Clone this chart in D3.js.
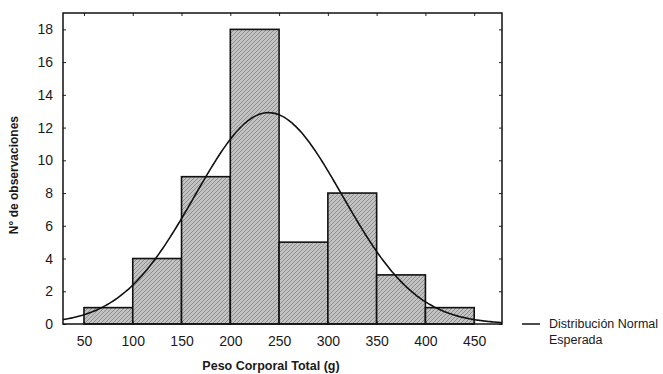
<!DOCTYPE html>
<html>
<head>
<meta charset="utf-8">
<script src="https://cdn.jsdelivr.net/npm/d3@7"></script>
<style>
  html, body { margin: 0; padding: 0; background: #ffffff; }
  svg { display: block; font-family: "Liberation Sans", Arial, sans-serif; }
</style>
</head>
<body>
<svg id="chart" width="663" height="374"></svg>
<script>
// Histogram of total body weight (g): bin edges and counts
const binStarts = [50, 100, 150, 200, 250, 300, 350, 400];
const binWidth = 50;
const counts = [1, 4, 9, 18, 5, 8, 3, 1];
const xTicks = [50, 100, 150, 200, 250, 300, 350, 400, 450];
const yTicks = [0, 2, 4, 6, 8, 10, 12, 14, 16, 18];

const svg = d3.select("#chart");
const margin = { left: 63, right: 161, top: 13, bottom: 50 };
const W = 663, H = 374;
const plotW = W - margin.left - margin.right;
const plotH = H - margin.top - margin.bottom;

const x = d3.scaleLinear().domain([28.5, 478.5]).range([margin.left, margin.left + plotW]);
const y = d3.scaleLinear().domain([0, 19]).range([margin.top + plotH, margin.top]);

// Hatched grey fill for bars ("/" diagonals)
const defs = svg.append("defs");
const pat = defs.append("pattern")
  .attr("id", "hatch")
  .attr("patternUnits", "userSpaceOnUse")
  .attr("width", 4).attr("height", 4);
pat.append("rect").attr("width", 4).attr("height", 4).attr("fill", "#c2c2c2");
pat.append("path").attr("d", "M-1,1 L1,-1 M0,4 L4,0 M3,5 L5,3")
  .attr("stroke", "#8e8e8e").attr("stroke-width", 1);

// Bars
svg.append("g").selectAll("rect")
  .data(binStarts.map((s, i) => ({ s, c: counts[i] })))
  .join("rect")
  .attr("x", d => x(d.s))
  .attr("y", d => y(d.c))
  .attr("width", d => x(d.s + binWidth) - x(d.s))
  .attr("height", d => y(0) - y(d.c))
  .attr("fill", "url(#hatch)")
  .attr("stroke", "#111")
  .attr("stroke-width", 1.6);

// Expected normal curve fitted from the histogram (mean and sd of binned data)
const mids = binStarts.map(s => s + binWidth / 2);
const n = d3.sum(counts);
const mean = d3.sum(mids.map((m, i) => m * counts[i])) / n;
const sd = Math.sqrt(d3.sum(mids.map((m, i) => counts[i] * (m - mean) ** 2)) / (n - 1));
const expected = v => n * binWidth / (sd * Math.sqrt(2 * Math.PI)) * Math.exp(-0.5 * ((v - mean) / sd) ** 2);
const xs = d3.range(x.domain()[0], x.domain()[1] + 0.01, 2);
svg.append("path")
  .datum(xs)
  .attr("fill", "none")
  .attr("stroke", "#111")
  .attr("stroke-width", 1.6)
  .attr("d", d3.line().x(v => x(v)).y(v => y(expected(v))).curve(d3.curveBasis));

// Axes with inward ticks on all four sides
const tickStyle = g => {
  g.select(".domain").remove();
  g.selectAll(".tick line").attr("stroke", "#222");
  g.selectAll(".tick text").attr("fill", "#1a1a1a").style("font-size", "14px");
};
svg.append("g").attr("transform", `translate(0,${y(0)})`)
  .call(d3.axisBottom(x).tickValues(xTicks).tickSize(-3).tickPadding(12).tickFormat(d3.format("d")))
  .call(tickStyle);
svg.append("g").attr("transform", `translate(${x.range()[0]},0)`)
  .call(d3.axisLeft(y).tickValues(yTicks).tickSize(-3).tickPadding(10).tickFormat(d3.format("d")))
  .call(tickStyle);
svg.append("g").attr("transform", `translate(0,${margin.top})`)
  .call(d3.axisTop(x).tickValues(xTicks).tickSize(-3).tickFormat(""))
  .call(tickStyle);
svg.append("g").attr("transform", `translate(${x.range()[1]},0)`)
  .call(d3.axisRight(y).tickValues(yTicks).tickSize(-3).tickFormat(""))
  .call(tickStyle);

// Plot frame
svg.append("rect")
  .attr("x", margin.left).attr("y", margin.top)
  .attr("width", plotW).attr("height", plotH)
  .attr("fill", "none").attr("stroke", "#111").attr("stroke-width", 1.5);

// Axis titles
svg.append("text")
  .attr("x", 271).attr("y", 370)
  .attr("text-anchor", "middle")
  .style("font-size", "12.5px").style("font-weight", "bold").attr("fill", "#1a1a1a")
  .text("Peso Corporal Total (g)");
svg.append("text")
  .attr("transform", `translate(18,${y(9.1)}) rotate(-90)`)
  .attr("text-anchor", "middle")
  .style("font-size", "12px").style("font-weight", "bold").attr("fill", "#1a1a1a")
  .text("N° de observaciones");

// Legend
const lg = svg.append("g");
lg.append("line").attr("x1", 522).attr("x2", 540).attr("y1", 324).attr("y2", 324)
  .attr("stroke", "#111").attr("stroke-width", 1.5);
lg.append("text").attr("x", 549).attr("y", 328)
  .style("font-size", "12.5px").attr("fill", "#1a1a1a").text("Distribución Normal");
lg.append("text").attr("x", 549).attr("y", 344)
  .style("font-size", "12.5px").attr("fill", "#1a1a1a").text("Esperada");
</script>
</body>
</html>
